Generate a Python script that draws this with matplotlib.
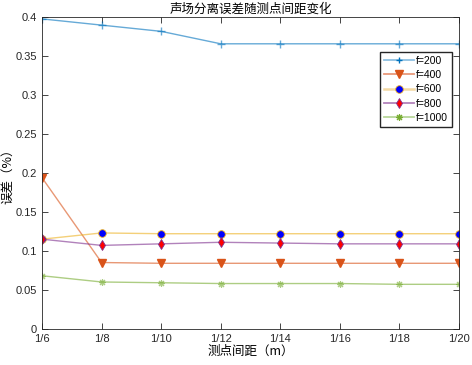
import numpy as np
import matplotlib
matplotlib.use('Agg')
from matplotlib import pyplot as plt

plt.rcParams['font.family'] = ['Liberation Sans', 'Noto Sans CJK SC', 'DejaVu Sans']

xlabels = ['1/6', '1/8', '1/10', '1/12', '1/14', '1/16', '1/18', '1/20']
f200 = [0.398, 0.390, 0.382, 0.366, 0.366, 0.366, 0.366, 0.366]
f400 = [0.194, 0.085, 0.084, 0.084, 0.084, 0.084, 0.084, 0.084]
f600 = [0.115, 0.123, 0.122, 0.122, 0.122, 0.122, 0.122, 0.122]
f800 = [0.115, 0.107, 0.109, 0.111, 0.110, 0.109, 0.109, 0.109]
f1000 = [0.068, 0.060, 0.059, 0.058, 0.058, 0.058, 0.057, 0.057]

x = np.arange(len(xlabels))
star = (8, 2, 0)  # asterisk like matlab '*'

fig = plt.figure(figsize=(4.72, 3.65), dpi=100)
ax = fig.add_axes([0.089, 0.0995, 0.8835, 0.853])

ax.plot(x, f200, color='#0072BD', alpha=0.6, lw=1, marker='+', ms=6, mew=1)
ax.plot(x, f400, color='#D95319', alpha=0.6, lw=1)
ax.plot(x, f400, ls='none', marker='v', ms=5.5, mfc='#D95319', mec='#D95319')
ax.plot(x, f600, color='#EDB120', alpha=0.6, lw=1)
ax.plot(x, f600, ls='none', marker='o', ms=5.5, mew=0.6, mfc='blue', mec='#EDB120')
ax.plot(x, f800, color='#7E2F8E', alpha=0.6, lw=1)
ax.plot(x, f800, ls='none', marker='d', ms=5.5, mew=0.6, mfc='red', mec='#7E2F8E')
ax.plot(x, f1000, color='#77AC30', alpha=0.6, lw=1, marker=star, ms=5, mew=0.8, mec='#77AC30')

# legend proxies (line + marker combined)
h = [
    plt.Line2D([], [], color='#8fc0e2', lw=1.3, marker='+', ms=5, mec='#0072BD'),
    plt.Line2D([], [], color='#e8987a', lw=1.3, marker='v', ms=5.5, mfc='#D95319', mec='#D95319'),
    plt.Line2D([], [], color='#f4d9a4', lw=1.8, marker='o', ms=5.5, mew=0.6, mfc='blue', mec='#EDB120'),
    plt.Line2D([], [], color='#b282bb', lw=1.3, marker='d', ms=5.5, mew=0.6, mfc='red', mec='#7E2F8E'),
    plt.Line2D([], [], color='#b8d79a', lw=1.3, marker=star, ms=5, mew=0.8, mec='#77AC30'),
]
ax.legend(h, ['f=200', 'f=400', 'f=600', 'f=800', 'f=1000'], loc='upper right',
          bbox_to_anchor=(0.983, 0.889), fontsize=7.5, fancybox=False,
          edgecolor='#262626', framealpha=1, handlelength=2.9, borderpad=0.35,
          labelspacing=0.42, handletextpad=0.2, borderaxespad=0)

ax.set_xlim(0, len(xlabels) - 1)
ax.set_ylim(0, 0.4)
ax.set_xticks(x)
ax.set_xticklabels(xlabels)
ax.set_yticks(np.arange(0, 0.41, 0.05))
ax.set_yticklabels(['0', '0.05', '0.1', '0.15', '0.2', '0.25', '0.3', '0.35', '0.4'])
ax.tick_params(direction='in', top=True, right=True, labelsize=8, length=4,
               color='#262626', labelcolor='#262626', width=0.6)
for s in ax.spines.values():
    s.set_color('#262626')
    s.set_linewidth(0.6)

ax.set_title('声场分离误差随测点间距变化', fontsize=9, family=['Noto Sans CJK SC'], pad=3)
ax.set_xlabel('测点间距（m）', fontsize=9, family=['Noto Sans CJK SC', 'DejaVu Sans'], labelpad=1)
ax.set_ylabel('误差（%）', fontsize=9, family=['Noto Sans CJK SC', 'DejaVu Sans'], labelpad=1)

plt.savefig('out.png', dpi=100)
